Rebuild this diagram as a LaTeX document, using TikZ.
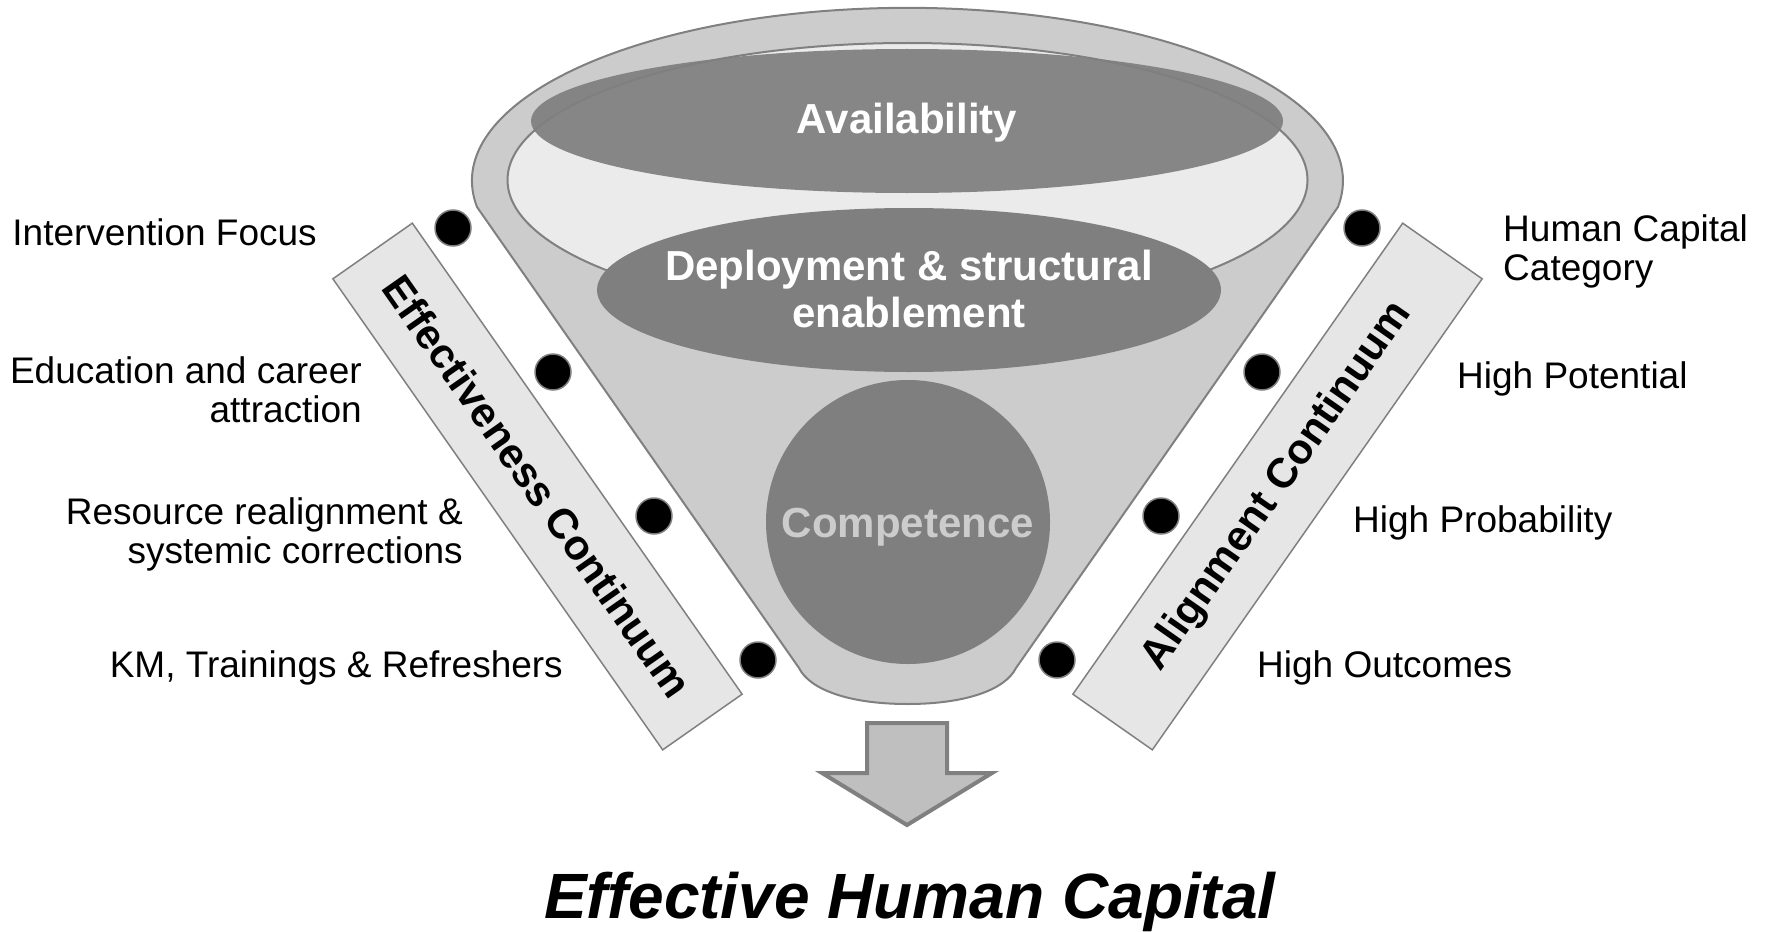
\documentclass[tikz,border=0pt]{standalone}
\usepackage{fontspec}
\setmainfont{Liberation Sans}
\definecolor{rimfill}{HTML}{CCCCCC}
\definecolor{innerfill}{HTML}{EBEBEB}
\definecolor{darkfill}{HTML}{7F7F7F}
\definecolor{edgecol}{HTML}{808080}
\definecolor{barfill}{HTML}{E6E6E6}
\definecolor{comptext}{HTML}{CCCCCC}
\definecolor{arrowfill}{HTML}{BFBFBF}
\begin{document}
\begin{tikzpicture}[x=1pt,y=1pt,
  lbl/.style={inner sep=0pt, font=\fontsize{37}{38.5}\selectfont},
  intxt/.style={inner sep=0pt, text=white, font=\bfseries\fontsize{42}{47}\selectfont, align=center},
  barbox/.style={draw=edgecol, line width=1.5pt, fill=barfill, inner sep=0pt,
    minimum width=575pt, minimum height=97pt, font=\bfseries\fontsize{42}{47}\selectfont},
  dotnode/.style={circle, fill=black, draw=edgecol, line width=1.5pt, minimum size=36pt, inner sep=0pt}]
\useasboundingbox (0,0) rectangle (1768,-931);
% funnel body
\path[fill=rimfill, draw=edgecol, line width=2pt]
  (477,-207) arc[start angle=188.7, end angle=-8.7, x radius=435.5, y radius=173]
  -- (1016,-668) .. controls (1005,-690) and (965,-704) .. (907.5,-704)
  .. controls (850,-704) and (810,-690) .. (799,-668) -- cycle;
% inner opening
\path[fill=innerfill, draw=edgecol, line width=2pt] (907.5,-180) ellipse [x radius=400, y radius=137];
% availability
\path[fill=darkfill, fill opacity=0.93] (907,-121) ellipse [x radius=376, y radius=72];
\node[intxt, anchor=base] (avail) at (907,-133) {Availability};
% deployment
\path[fill=darkfill] (909,-290) ellipse [x radius=312, y radius=82];
\node[intxt, anchor=base] (deploy) at (909,-327) {Deployment \& structural\\enablement};
% competence
\path[fill=darkfill] (908,-522) circle [radius=142];
\node[intxt, text=comptext, anchor=base] (comp) at (908,-537) {Competence};
% bars
\node[barbox, rotate=-55] (effbar) at (537.5,-486.5) {Effectiveness Continuum};
\node[barbox, rotate=55] (alibar) at (1277.5,-486.5) {Alignment Continuum};
% dots
\node[dotnode] (dl1) at (453,-228) {};
\node[dotnode] (dl2) at (553,-372) {};
\node[dotnode] (dl3) at (654,-516) {};
\node[dotnode] (dl4) at (758,-660) {};
\node[dotnode] (dr1) at (1362,-228) {};
\node[dotnode] (dr2) at (1262,-372) {};
\node[dotnode] (dr3) at (1161,-516) {};
\node[dotnode] (dr4) at (1057,-660) {};
% left labels
\node[lbl, anchor=base east] (l1) at (317,-245) {Intervention Focus};
\node[lbl, anchor=base east, align=right] (l2) at (362,-422) {Education and career\\attraction};
\node[lbl, anchor=base east, align=right] (l3) at (463,-563) {Resource realignment \&\\systemic corrections};
\node[lbl, anchor=base east] (l4) at (563,-677) {KM, Trainings \& Refreshers};
% right labels
\node[lbl, anchor=base west, align=left] (r1) at (1503,-280) {Human Capital\\Category};
\node[lbl, anchor=base west] (r2) at (1457,-388) {High Potential};
\node[lbl, anchor=base west] (r3) at (1353,-532) {High Probability};
\node[lbl, anchor=base west] (r4) at (1257,-677) {High Outcomes};
% output arrow
\path[fill=arrowfill, draw=edgecol, line width=4pt, line join=miter]
  (867,-723) -- (947,-723) -- (947,-773) -- (992,-773) -- (907,-825)
  -- (822,-773) -- (867,-773) -- cycle;
% title
\node[inner sep=0pt, anchor=base, font=\bfseries\itshape\fontsize{64}{70}\selectfont] (title) at (910,-918) {Effective Human Capital};
\end{tikzpicture}
\end{document}
